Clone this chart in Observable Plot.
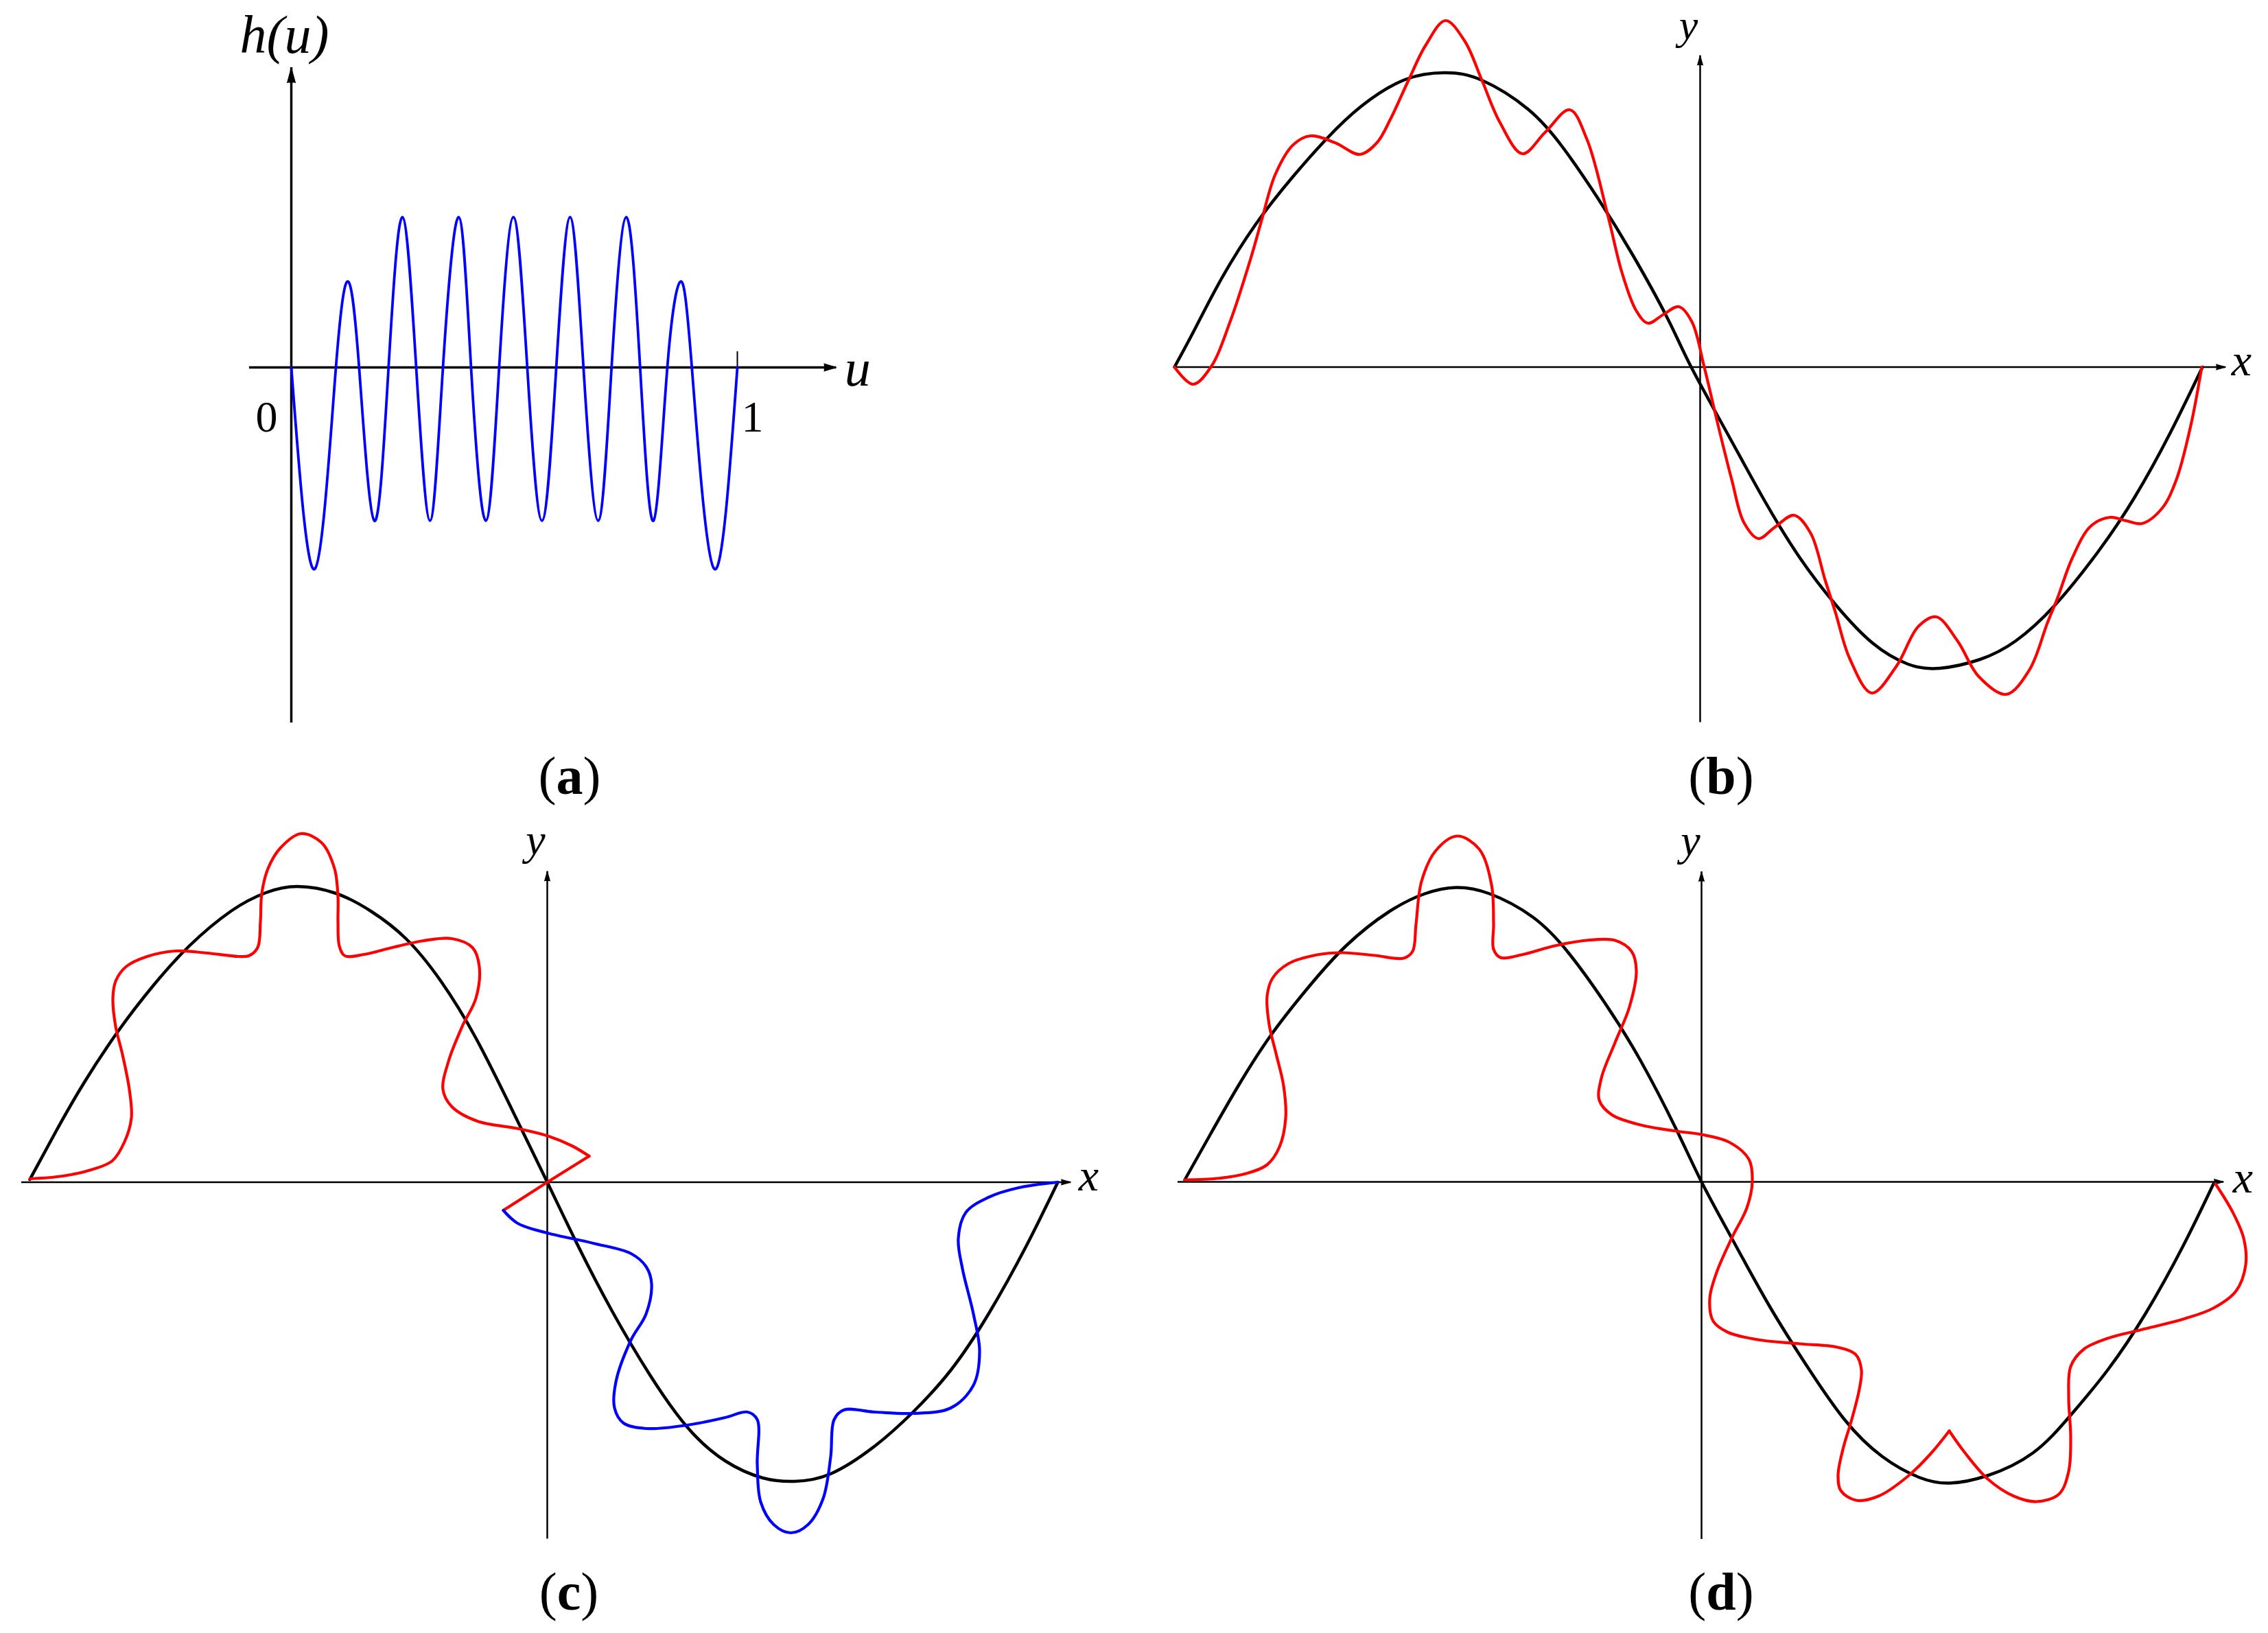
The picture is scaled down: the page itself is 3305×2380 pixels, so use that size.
<!DOCTYPE html>
<html><head><meta charset="utf-8">
<script src="https://cdn.jsdelivr.net/npm/d3@7"></script>
<script src="https://cdn.jsdelivr.net/npm/@observablehq/plot@0.6"></script>
<style>
html,body{margin:0;padding:0;background:#fff;}
#fig{position:relative;width:3305px;height:2380px;background:#fff;overflow:hidden;}
.pan{position:absolute;}
.cap{position:absolute;font-family:"Liberation Serif",serif;font-size:78px;line-height:1;transform:translateX(-50%);white-space:nowrap;color:#000;}
</style></head><body><div id="fig"></div>
<script>
// ---------- Panel (a): h(u) ----------
const hU   = [0, 0.053, 0.100, 0.128, 0.152, 0.186, 0.218, 0.249, 0.280, 0.311, 0.340, 0.375, 0.403, 0.436, 0.466, 0.498, 0.529, 0.562, 0.594, 0.625, 0.655, 0.688, 0.718, 0.751, 0.782, 0.812, 0.843, 0.872, 0.898, 0.948, 1.0];
const hVal = [0, -1.34, 0, 0.57, 0, -1.02, 0, 1, 0, -1.02, 0, 1, 0, -1.02, 0, 1, 0, -1.02, 0, 1, 0, -1.02, 0, 1, 0, -1.02, 0, 0.57, 0, -1.34, 0];
const axisA = {x: [-0.094, 1.222], y: [-2.365, 1.995]};
const tickA = [1];

// ---------- Panel (b) ----------
const blackB = [[-7.66,0],[-7.36,0.56],[-6.98,1.28],[-6.47,2.09],[-5.93,2.78],[-5.45,3.32],[-4.94,3.80],[-4.30,4.19],[-3.71,4.29],[-3.18,4.18],[-2.51,3.76],[-2.00,3.20],[-1.49,2.46],[-0.98,1.63],[-0.47,0.70],[-0.13,0],[0.42,-1.01],[0.94,-1.95],[1.46,-2.79],[1.98,-3.47],[2.51,-4.02],[3.03,-4.33],[3.49,-4.39],[4.08,-4.26],[4.60,-3.99],[5.17,-3.47],[5.80,-2.69],[6.33,-1.90],[6.85,-0.96],[7.32,0]];
const redB = [[-7.66,0],[-7.39,-0.25],[-7.13,0],[-6.85,0.66],[-6.55,1.58],[-6.39,2.14],[-6.19,2.81],[-5.93,3.24],[-5.68,3.37],[-5.32,3.27],[-4.96,3.10],[-4.71,3.27],[-4.51,3.62],[-4.25,4.18],[-4.00,4.69],[-3.71,5.05],[-3.43,4.75],[-3.18,4.18],[-2.92,3.57],[-2.59,3.11],[-2.26,3.42],[-1.90,3.75],[-1.65,3.32],[-1.34,2.19],[-1.14,1.38],[-0.93,0.82],[-0.76,0.64],[-0.53,0.77],[-0.31,0.88],[-0.12,0.66],[0.06,0],[0.25,-0.80],[0.46,-1.64],[0.64,-2.27],[0.85,-2.50],[1.08,-2.34],[1.37,-2.16],[1.61,-2.42],[1.82,-3.10],[1.97,-3.57],[2.18,-4.25],[2.50,-4.75],[2.86,-4.36],[3.18,-3.78],[3.44,-3.64],[3.75,-3.99],[4.06,-4.51],[4.46,-4.77],[4.80,-4.41],[5.06,-3.73],[5.21,-3.36],[5.42,-2.79],[5.69,-2.32],[5.97,-2.19],[6.21,-2.24],[6.44,-2.28],[6.73,-2.06],[6.94,-1.64],[7.15,-0.85],[7.31,0]];
const axisB = {x: [-7.66, 7.66], y: [-5.18, 4.54]};

// ---------- Panel (c) ----------
const blackC = [[-7.54,0.04],[-7.16,0.74],[-6.75,1.45],[-6.24,2.22],[-5.73,2.88],[-5.22,3.44],[-4.61,3.95],[-4.10,4.22],[-3.64,4.31],[-3.08,4.21],[-2.57,3.95],[-2.06,3.55],[-1.55,2.93],[-1.04,2.10],[-0.52,1.07],[0,0],[0.45,-0.93],[0.94,-1.87],[1.49,-2.80],[2.04,-3.57],[2.59,-4.06],[3.14,-4.31],[3.60,-4.36],[4.13,-4.25],[4.78,-3.84],[5.33,-3.35],[5.88,-2.74],[6.43,-1.92],[6.98,-0.93],[7.44,0]];
const redC = [[-7.54,0.05],[-7.06,0.09],[-6.65,0.18],[-6.34,0.31],[-6.16,0.59],[-6.06,0.94],[-6.09,1.35],[-6.19,1.86],[-6.29,2.27],[-6.33,2.68],[-6.29,2.93],[-6.14,3.14],[-5.83,3.29],[-5.42,3.37],[-4.96,3.34],[-4.50,3.29],[-4.35,3.30],[-4.22,3.42],[-4.18,3.80],[-4.16,4.21],[-4.07,4.57],[-3.89,4.87],[-3.59,5.08],[-3.29,4.95],[-3.10,4.57],[-3.05,4.16],[-3.05,3.80],[-3.03,3.44],[-2.95,3.30],[-2.67,3.32],[-2.26,3.42],[-1.80,3.52],[-1.39,3.55],[-1.09,3.42],[-0.99,3.14],[-1.04,2.68],[-1.24,2.27],[-1.44,1.76],[-1.52,1.35],[-1.39,1.10],[-1.02,0.89],[-0.42,0.78],[0.02,0.67],[0.36,0.53],[0.61,0.38]];
const redCKink = [[0.61,0.38],[0,0],[-0.64,-0.41]];
const blueC = [[-0.64,-0.41],[-0.43,-0.60],[0,-0.74],[0.67,-0.89],[1.22,-1.04],[1.44,-1.23],[1.52,-1.48],[1.44,-1.92],[1.22,-2.30],[1.00,-2.91],[0.98,-3.29],[1.11,-3.51],[1.44,-3.59],[2.04,-3.54],[2.59,-3.43],[2.92,-3.35],[3.06,-3.46],[3.06,-4.11],[3.11,-4.66],[3.30,-4.99],[3.55,-5.11],[3.80,-4.99],[4.02,-4.61],[4.13,-4.00],[4.18,-3.46],[4.32,-3.32],[4.78,-3.35],[5.33,-3.37],[5.88,-3.29],[6.21,-2.96],[6.30,-2.47],[6.21,-1.92],[6.05,-1.26],[5.99,-0.82],[6.10,-0.44],[6.43,-0.22],[6.87,-0.08],[7.44,0]];
const axisC = {x: [-7.66, 7.63], y: [-5.20, 4.53]};

// ---------- Panel (d) ----------
const blackD = [[-7.53,0.03],[-7.17,0.67],[-6.75,1.40],[-6.28,2.13],[-5.75,2.81],[-5.18,3.44],[-4.55,3.94],[-4.03,4.20],[-3.58,4.29],[-3.09,4.20],[-2.46,3.86],[-1.94,3.34],[-1.41,2.61],[-0.89,1.77],[-0.37,0.77],[0,0],[0.44,-0.82],[0.99,-1.81],[1.54,-2.69],[2.08,-3.46],[2.63,-4.00],[3.18,-4.31],[3.62,-4.39],[4.17,-4.28],[4.83,-3.95],[5.38,-3.40],[5.92,-2.74],[6.47,-1.92],[7.02,-0.93],[7.46,-0.03]];
const redD1 = [[-7.53,0.03],[-7.06,0.05],[-6.64,0.12],[-6.33,0.25],[-6.15,0.51],[-6.06,0.93],[-6.09,1.40],[-6.20,1.87],[-6.30,2.29],[-6.33,2.71],[-6.25,2.97],[-6.02,3.18],[-5.60,3.31],[-5.23,3.34],[-4.76,3.30],[-4.34,3.26],[-4.21,3.36],[-4.16,3.76],[-4.08,4.38],[-3.87,4.83],[-3.56,5.04],[-3.24,4.85],[-3.06,4.33],[-3.03,3.76],[-3.03,3.39],[-2.93,3.27],[-2.62,3.31],[-2.14,3.44],[-1.67,3.52],[-1.26,3.52],[-1.02,3.36],[-0.95,3.08],[-1.05,2.55],[-1.26,2.03],[-1.46,1.51],[-1.49,1.19],[-1.31,0.98],[-0.89,0.83],[-0.37,0.74],[0,0.69],[0.40,0.58],[0.69,0.33],[0.74,0],[0.66,-0.38],[0.44,-0.82],[0.22,-1.32],[0.12,-1.70],[0.17,-2.03],[0.38,-2.19],[0.82,-2.30],[1.43,-2.36],[1.98,-2.41],[2.25,-2.52],[2.33,-2.74],[2.30,-3.02],[2.19,-3.46],[2.06,-3.90],[1.99,-4.28],[2.03,-4.50],[2.25,-4.64],[2.58,-4.58],[3.02,-4.28],[3.35,-3.95],[3.61,-3.63]];
const redD2 = [[3.61,-3.63],[3.84,-3.95],[4.17,-4.33],[4.55,-4.58],[4.88,-4.66],[5.21,-4.55],[5.35,-4.22],[5.38,-3.73],[5.35,-3.13],[5.38,-2.69],[5.57,-2.44],[5.92,-2.28],[6.47,-2.14],[7.02,-2.00],[7.46,-1.84],[7.79,-1.59],[7.93,-1.21],[7.90,-0.82],[7.74,-0.44],[7.49,-0.03]];
const axisD = {x: [-7.63, 7.61], y: [-5.21, 4.52]};

const captions = ["a", "b", "c", "d"];

// ---------- helpers ----------
const RED = "#ff0000", BLUE = "#0000ff";
const hasSpike = typeof Plot.spike === "function";
function arrowHead(pt, rot, len, r) {
  if (hasSpike) return Plot.vector([pt], {x: d => d[0], y: d => d[1], rotate: rot, length: len, r, shape: "spike", anchor: "end", fill: "black", stroke: "black", strokeWidth: 1});
  return Plot.dot([pt], {x: d => d[0], y: d => d[1], symbol: "triangle2", r: r * 1.3, fill: "black", rotate: rot});
}
function txt(lbl, size, italic) {
  return Plot.text([lbl], {x: d => d.x, y: d => d.y, text: d => d.t, dx: lbl.dx, dy: lbl.dy,
    fontSize: size, fontFamily: "Liberation Serif", fontStyle: italic ? "italic" : "normal",
    textAnchor: lbl.anchor || "middle", lineAnchor: "bottom", fill: "black"});
}
function line(pts, color, w, curve) {
  return Plot.line(pts, {x: d => d[0], y: d => d[1], stroke: color, strokeWidth: w, curve, strokeLinejoin: "round", strokeLinecap: "round"});
}
function panel(p) {
  const marks = [
    Plot.ruleY([0], {x1: () => p.axis.x[0], x2: () => p.axis.x[1], stroke: "black", strokeWidth: p.axisW}),
    Plot.ruleX([0], {y1: () => p.axis.y[0], y2: () => p.axis.y[1], stroke: "black", strokeWidth: p.axisW}),
    arrowHead([p.axis.x[1], 0], 90, p.arrX[0], p.arrX[1]),
    arrowHead([0, p.axis.y[1]], 0, p.arrY[0], p.arrY[1]),
    ...p.marks
  ];
  const svg = Plot.plot({
    width: p.width, height: p.height, margin: 0,
    x: {domain: [0, 1], range: [p.ox, p.ox + p.kx], axis: null},
    y: {domain: [0, 1], range: [p.oy, p.oy - p.ky], axis: null},
    style: {maxWidth: "none", background: "transparent", overflow: "visible"},
    marks
  });
  const div = document.createElement("div");
  div.className = "pan";
  div.style.left = p.left + "px"; div.style.top = p.top + "px";
  div.style.width = p.width + "px"; div.style.height = p.height + "px";
  div.appendChild(svg);
  document.getElementById("fig").appendChild(div);
}

// (a)
const ptsA = hU.map((u, i) => [u, hVal[i]]);
panel({left: 330, top: 0, width: 960, height: 1075, ox: 94, oy: 535, kx: 650, ky: 219,
  axis: axisA, axisW: 3.5, arrX: [18, 5.5], arrY: [22, 6],
  marks: [
    Plot.ruleX(tickA, {x: d => d, y1: () => 0, y2: () => 0.105, stroke: "black", strokeWidth: 2}),
    line(ptsA, BLUE, 3.8, "natural"),
    txt({x: 0, y: axisA.y[1], t: "h(u)", dx: -10, dy: -22}, 78, true),
    txt({x: axisA.x[1], y: 0, t: "u", dx: 12, dy: 26, anchor: "start"}, 76, true),
    txt({x: 0, y: 0, t: "0", dx: -36, dy: 93}, 64, false),
    txt({x: tickA[0], y: 0, t: "1", dx: 22, dy: 93}, 64, false)
  ]});

// (b)
panel({left: 1680, top: 0, width: 1625, height: 1090, ox: 797, oy: 534.5, kx: 100, ky: 100,
  axis: axisB, axisW: 2.5, arrX: [14, 4], arrY: [14, 4],
  marks: [
    line(blackB, "black", 4.5, "natural"),
    line(redB, RED, 4.2, "catmull-rom"),
    txt({x: 0, y: axisB.y[1], t: "y", dx: -17, dy: -24}, 62, true),
    txt({x: axisB.x[1], y: 0, t: "x", dx: 23, dy: 12}, 66, true)
  ]});

// (c)
panel({left: 0, top: 1180, width: 1650, height: 1090, ox: 797, oy: 542.5, kx: 100, ky: 100,
  axis: axisC, axisW: 2.5, arrX: [14, 4], arrY: [14, 4],
  marks: [
    line(blackC, "black", 4.5, "natural"),
    line(redC, RED, 4.2, "catmull-rom"),
    line(redCKink, RED, 4.2, "linear"),
    line(blueC, BLUE, 4.2, "catmull-rom"),
    txt({x: 0, y: axisC.y[1], t: "y", dx: -17, dy: -25}, 64, true),
    txt({x: axisC.x[1], y: 0, t: "x", dx: 26, dy: 12}, 66, true)
  ]});

// (d)
panel({left: 1680, top: 1180, width: 1625, height: 1090, ox: 799, oy: 542, kx: 100, ky: 100,
  axis: axisD, axisW: 2.5, arrX: [14, 4], arrY: [14, 4],
  marks: [
    line(blackD, "black", 4.5, "natural"),
    line(redD1, RED, 4.2, "catmull-rom"),
    line(redD2, RED, 4.2, "catmull-rom"),
    txt({x: 0, y: axisD.y[1], t: "y", dx: -16, dy: -25}, 64, true),
    txt({x: axisD.x[1], y: 0, t: "x", dx: 28, dy: 15}, 66, true)
  ]});

// captions
const capPos = [[830, 1092], [2508, 1092], [829, 2281], [2508, 2281]];
captions.forEach((c, i) => {
  const d = document.createElement("div");
  d.className = "cap";
  d.style.left = capPos[i][0] + "px"; d.style.top = capPos[i][1] + "px";
  d.innerHTML = "(<b>" + c + "</b>)";
  document.getElementById("fig").appendChild(d);
});
</script></body></html>
